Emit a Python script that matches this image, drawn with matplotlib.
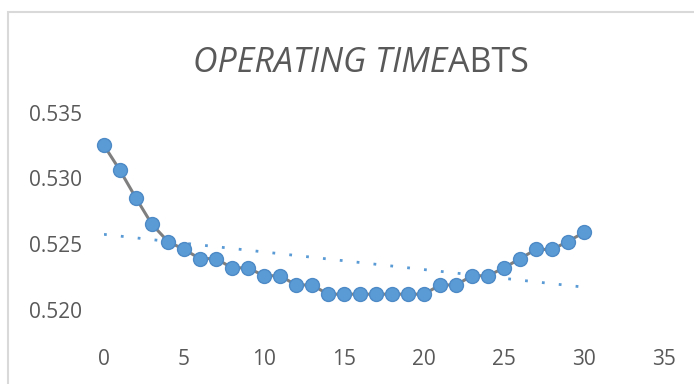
import numpy as np
import matplotlib
matplotlib.use("Agg")
import matplotlib.pyplot as plt
from matplotlib.patches import Rectangle

# operating time values
xs = list(range(31))
ys = [0.5325, 0.5306, 0.5285, 0.5265, 0.5252, 0.5246, 0.5239, 0.5239,
      0.5232, 0.5232, 0.5226, 0.5226, 0.5219, 0.5219,
      0.5212, 0.5212, 0.5212, 0.5212, 0.5212, 0.5212, 0.5212,
      0.5219, 0.5219, 0.5226, 0.5226, 0.5232, 0.5239, 0.5246, 0.5246,
      0.5252, 0.5259]
xticks = [0, 5, 10, 15, 20, 25, 30, 35]
yticks = [0.520, 0.525, 0.530, 0.535]

title_italic = "OPERATING TIME"
title_plain = "ABTS"

text_color = "#595959"
blue = "#5b9bd5"
font = "Open Sans"

W, H = 694, 384
fig = plt.figure(figsize=(W / 100, H / 100), dpi=100)

# chart border (runs off the right and bottom of the crop)
fig.patches.append(Rectangle((8 / W, -0.1), 1.2, 1.1 - 12 / H,
                             transform=fig.transFigure, fill=False,
                             edgecolor="#d9d9d9", linewidth=1.5))

ax = fig.add_axes([104 / W, (H - 345) / H, 560 / W, 245 / H])
ax.plot(xs, ys, color="#7f7f7f", linewidth=2.2, marker="o", markersize=10,
        markerfacecolor=blue, markeredgecolor="#4d8ac6", markeredgewidth=1.0,
        clip_on=False, zorder=3)

# linear trendline
coef = np.polyfit(xs, ys, 1)
tx = np.array([xs[0], xs[-1]])
ax.plot(tx, np.polyval(coef, tx), color=blue, linewidth=2.0,
        linestyle=(0, (1, 5.1)), zorder=2)

ax.set_xlim(0, 35)
ax.set_ylim(0.51734, 0.53595)
ax.set_xticks(xticks)
ax.set_yticks(yticks)
ax.set_yticklabels(["%.3f" % v for v in yticks])
ax.tick_params(length=0, labelsize=15, labelcolor=text_color)
ax.tick_params(axis="y", pad=16)
ax.tick_params(axis="x", pad=3)
for lab in ax.get_xticklabels() + ax.get_yticklabels():
    lab.set_fontfamily(font)
for s in ax.spines.values():
    s.set_visible(False)

ty = (H - 71.7) / H
fig.text(447 / W, ty, title_italic, ha="right", va="baseline", fontsize=24.5,
         style="italic", color=text_color, family=font)
fig.text(448 / W, ty, title_plain, ha="left", va="baseline", fontsize=24.5,
         color=text_color, family=font)

fig.savefig("out.png", dpi=100)
